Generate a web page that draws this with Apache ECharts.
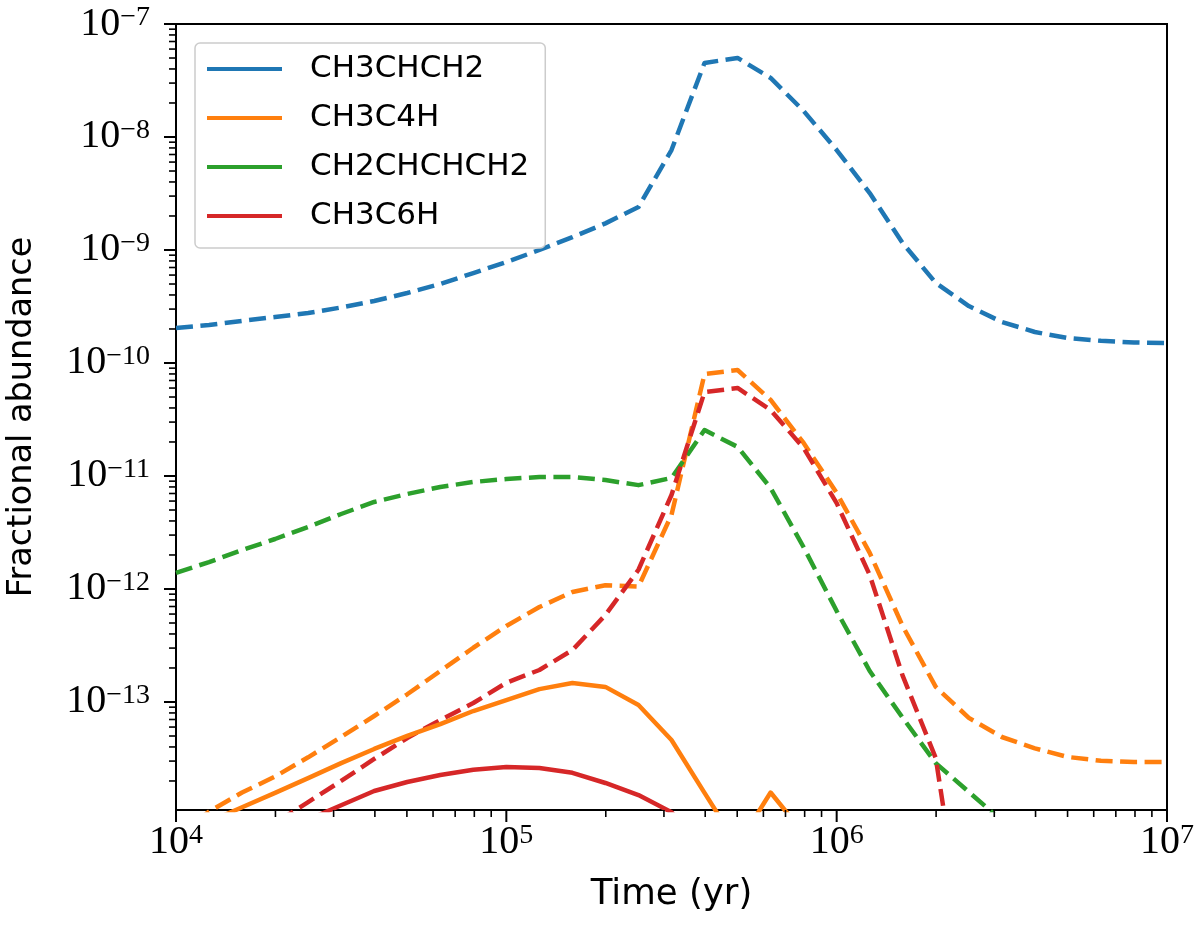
<!DOCTYPE html>
<html>
<head>
<meta charset="utf-8">
<script src="https://cdn.jsdelivr.net/npm/echarts@6/dist/echarts.min.js"></script>
<style>html,body{margin:0;padding:0;background:#fff}#c{width:1200px;height:936px}</style>
</head>
<body>
<div id="c"></div>
<script>
// ---- data ----
const times = [1.00e4, 1.259e4, 1.585e4, 1.995e4, 2.512e4, 3.162e4, 3.981e4, 5.012e4, 6.31e4, 7.943e4,
  1.00e5, 1.259e5, 1.585e5, 1.995e5, 2.512e5, 3.162e5, 3.981e5, 5.012e5, 6.31e5, 7.943e5,
  1.00e6, 1.259e6, 1.585e6, 1.995e6, 2.512e6, 3.162e6, 3.981e6, 5.012e6, 6.31e6, 7.943e6, 1.00e7];

const seriesNames = ['CH3CHCH2', 'CH3C4H', 'CH2CHCHCH2', 'CH3C6H'];

const ch3chch2Dashed = [2.04e-10, 2.17e-10, 2.36e-10, 2.55e-10, 2.77e-10, 3.10e-10, 3.54e-10, 4.16e-10, 5.00e-10, 6.25e-10,
  7.83e-10, 1.00e-9, 1.30e-9, 1.72e-9, 2.40e-9, 7.67e-9, 4.52e-8, 5.01e-8, 3.33e-8, 1.70e-8,
  7.67e-9, 3.19e-9, 1.15e-9, 5.11e-10, 3.19e-10, 2.31e-10, 1.88e-10, 1.66e-10, 1.57e-10, 1.52e-10, 1.50e-10];

const ch3c4hDashed = [6.46e-15, 1.07e-14, 1.58e-14, 2.19e-14, 3.24e-14, 4.90e-14, 7.52e-14, 1.17e-13, 1.88e-13, 3.02e-13,
  4.71e-13, 6.93e-13, 9.40e-13, 1.08e-12, 1.05e-12, 4.52e-12, 8.0e-11, 8.67e-11, 4.71e-11, 1.96e-11,
  7.08e-12, 2.09e-12, 4.68e-13, 1.36e-13, 7.24e-14, 4.9e-14, 3.89e-14, 3.26e-14, 3.02e-14, 2.94e-14, 2.94e-14];

const ch2chchch2Dashed = [1.39e-12, 1.73e-12, 2.21e-12, 2.77e-12, 3.54e-12, 4.61e-12, 5.89e-12, 6.93e-12, 8.0e-12, 8.85e-12,
  9.4e-12, 9.8e-12, 9.8e-12, 9.2e-12, 8.3e-12, 9.6e-12, 2.55e-11, 1.81e-11, 7.83e-12, 2.34e-12,
  6.38e-13, 1.88e-13, 7.24e-14, 2.88e-14, 1.6e-14, 8.9e-15, 5.0e-15, null, null, null, null];

const ch3c6hDashed = [2.29e-15, 3.55e-15, 5.5e-15, 8.5e-15, 1.30e-14, 2.0e-14, 3.13e-14, 4.80e-14, 6.93e-14, 9.79e-14,
  1.48e-13, 1.92e-13, 2.88e-13, 5.89e-13, 1.48e-12, 6.79e-12, 5.53e-11, 6.01e-11, 3.84e-11, 1.77e-11,
  5.75e-12, 1.33e-12, 1.70e-13, 3.19e-14, 4.0e-16, null, null, null, null, null, null];

const ch3c4hSolid = [6.4e-15, 8.7e-15, 1.17e-14, 1.57e-14, 2.12e-14, 2.88e-14, 3.84e-14, 5.01e-14, 6.38e-14, 8.32e-14,
  1.04e-13, 1.30e-13, 1.47e-13, 1.36e-13, 9.4e-14, 4.61e-14, 1.57e-14, 5.4e-15, 1.58e-14, 6.9e-15,
  null, null, null, null, null, null, null, null, null, null, null];

const ch3c6hSolid = [2.2e-15, 3.2e-15, 4.5e-15, 6.5e-15, 9.1e-15, 1.22e-14, 1.63e-14, 1.96e-14, 2.26e-14, 2.51e-14,
  2.66e-14, 2.61e-14, 2.36e-14, 1.92e-14, 1.50e-14, 1.06e-14, 5.0e-15, null, null, null,
  null, null, null, null, null, null, null, null, null, null, null];

// ---- ticks ----
const xMajorTicks = [1e4, 1e5, 1e6, 1e7];
const xMinorTicks = [2e4, 3e4, 4e4, 5e4, 6e4, 7e4, 8e4, 9e4,
  2e5, 3e5, 4e5, 5e5, 6e5, 7e5, 8e5, 9e5,
  2e6, 3e6, 4e6, 5e6, 6e6, 7e6, 8e6, 9e6];
const yMajorTicks = [1e-13, 1e-12, 1e-11, 1e-10, 1e-9, 1e-8, 1e-7];
const yMinorTicks = [2e-14, 3e-14, 4e-14, 5e-14, 6e-14, 7e-14, 8e-14, 9e-14,
  2e-13, 3e-13, 4e-13, 5e-13, 6e-13, 7e-13, 8e-13, 9e-13,
  2e-12, 3e-12, 4e-12, 5e-12, 6e-12, 7e-12, 8e-12, 9e-12,
  2e-11, 3e-11, 4e-11, 5e-11, 6e-11, 7e-11, 8e-11, 9e-11,
  2e-10, 3e-10, 4e-10, 5e-10, 6e-10, 7e-10, 8e-10, 9e-10,
  2e-9, 3e-9, 4e-9, 5e-9, 6e-9, 7e-9, 8e-9, 9e-9,
  2e-8, 3e-8, 4e-8, 5e-8, 6e-8, 7e-8, 8e-8, 9e-8];

const X_MIN = 1e4, X_MAX = 1e7, Y_MIN = 1.107e-14, Y_MAX = 1e-7;

const colors = ['#1f77b4', '#ff7f0e', '#2ca02c', '#d62728'];
const DASH = [17, 7.5];
const LW = 4.5;

function pairs(vals) { return times.map((t, i) => [t, vals[i]]); }

function powLabel(v) {
  const e = Math.log10(v);
  const r = Math.round(e);
  if (Math.abs(e - r) > 1e-6) return '';
  return '{b|10}{s|' + (r < 0 ? '\u2212' + (-r) : String(r)) + '}';
}
const richStyle = {
  b: { fontFamily: 'Liberation Serif', fontSize: 40, color: '#000', lineHeight: 40 },
  s: { fontFamily: 'Liberation Serif', fontSize: 28, color: '#000', lineHeight: 26, verticalAlign: 'top' }
};

function lineSeries(name, vals, color, dashed, z) {
  return {
    name: name, type: 'line', data: pairs(vals), showSymbol: false, symbol: 'none',
    connectNulls: false, clip: true, z: z, animation: false, silent: true,
    itemStyle: { color: color },
    lineStyle: { color: color, width: LW, type: dashed ? DASH : 'solid', cap: 'butt', join: 'round' }
  };
}

const xTickData = xMajorTicks.map(v => [v, Y_MIN, 1]).concat(xMinorTicks.map(v => [v, Y_MIN, 0]));
const yTickData = yMajorTicks.map(v => [X_MIN, v, 1]).concat(yMinorTicks.map(v => [X_MIN, v, 0]));

const chart = echarts.init(document.getElementById('c'), null, { renderer: 'canvas' });
chart.setOption({
  animation: false,
  backgroundColor: '#fff',
  grid: {
    left: 176, right: 33, top: 24, bottom: 126,
    show: true, borderColor: '#000', borderWidth: 2, backgroundColor: 'transparent',
    containLabel: false, outerBoundsMode: 'none'
  },
  legend: {
    orient: 'vertical', left: 195, top: 43,
    data: seriesNames.map((n, i) => ({ name: n, icon: 'rect', itemStyle: { color: colors[i], borderWidth: 0 } })),
    itemWidth: 75, itemHeight: 4, itemGap: 9,
    padding: [6, 16, 12, 12],
    selectedMode: false,
    textStyle: { fontFamily: 'DejaVu Sans', fontSize: 31, lineHeight: 40, color: '#000', padding: [0, 0, 0, 23] },
    borderColor: '#cccccc', borderWidth: 1.5, borderRadius: 5,
    backgroundColor: 'rgba(255,255,255,0.8)', z: 10
  },
  xAxis: {
    type: 'log', logBase: 10, min: X_MIN, max: X_MAX,
    name: 'Time (yr)', nameLocation: 'middle', nameGap: 67,
    nameTextStyle: { fontFamily: 'DejaVu Sans', fontSize: 35.5, color: '#000' },
    axisLine: { show: false }, axisTick: { show: false }, splitLine: { show: false }, minorTick: { show: false },
    axisLabel: { margin: 12, formatter: powLabel, rich: richStyle, color: '#000', showMinLabel: true, showMaxLabel: true, hideOverlap: false }
  },
  yAxis: {
    type: 'log', logBase: 10, min: Y_MIN, max: Y_MAX,
    name: 'Fractional abundance', nameLocation: 'middle', nameGap: 137,
    nameTextStyle: { fontFamily: 'DejaVu Sans', fontSize: 33.5, color: '#000' },
    axisLine: { show: false }, axisTick: { show: false }, splitLine: { show: false }, minorTick: { show: false },
    axisLabel: { margin: 26, formatter: powLabel, rich: richStyle, color: '#000', showMinLabel: true, showMaxLabel: true, hideOverlap: false }
  },
  series: [
    lineSeries('CH3CHCH2', ch3chch2Dashed, colors[0], true, 3),
    lineSeries('CH3C4H', ch3c4hDashed, colors[1], true, 3),
    lineSeries('CH2CHCHCH2', ch2chchch2Dashed, colors[2], true, 3),
    lineSeries('CH3C6H', ch3c6hDashed, colors[3], true, 3),
    lineSeries('CH3C4H', ch3c4hSolid, colors[1], false, 3),
    lineSeries('CH3C6H', ch3c6hSolid, colors[3], false, 3),
    {
      type: 'custom', name: 'xticks', data: xTickData, silent: true, z: 5, clip: false,
      encode: { x: 0, y: 1 },
      renderItem: function (params, api) {
        const p = api.coord([api.value(0), api.value(1)]);
        const major = api.value(2) === 1;
        const len = major ? 12 : 7;
        return { type: 'line', shape: { x1: p[0], y1: p[1], x2: p[0], y2: p[1] + len },
          style: { stroke: '#000', lineWidth: major ? 2 : 1.6 } };
      }
    },
    {
      type: 'custom', name: 'yticks', data: yTickData, silent: true, z: 5, clip: false,
      encode: { x: 0, y: 1 },
      renderItem: function (params, api) {
        const p = api.coord([api.value(0), api.value(1)]);
        const major = api.value(2) === 1;
        const len = major ? 12 : 7;
        return { type: 'line', shape: { x1: p[0] - len, y1: p[1], x2: p[0], y2: p[1] },
          style: { stroke: '#000', lineWidth: major ? 2 : 1.6 } };
      }
    }
  ]
});
</script>
</body>
</html>
